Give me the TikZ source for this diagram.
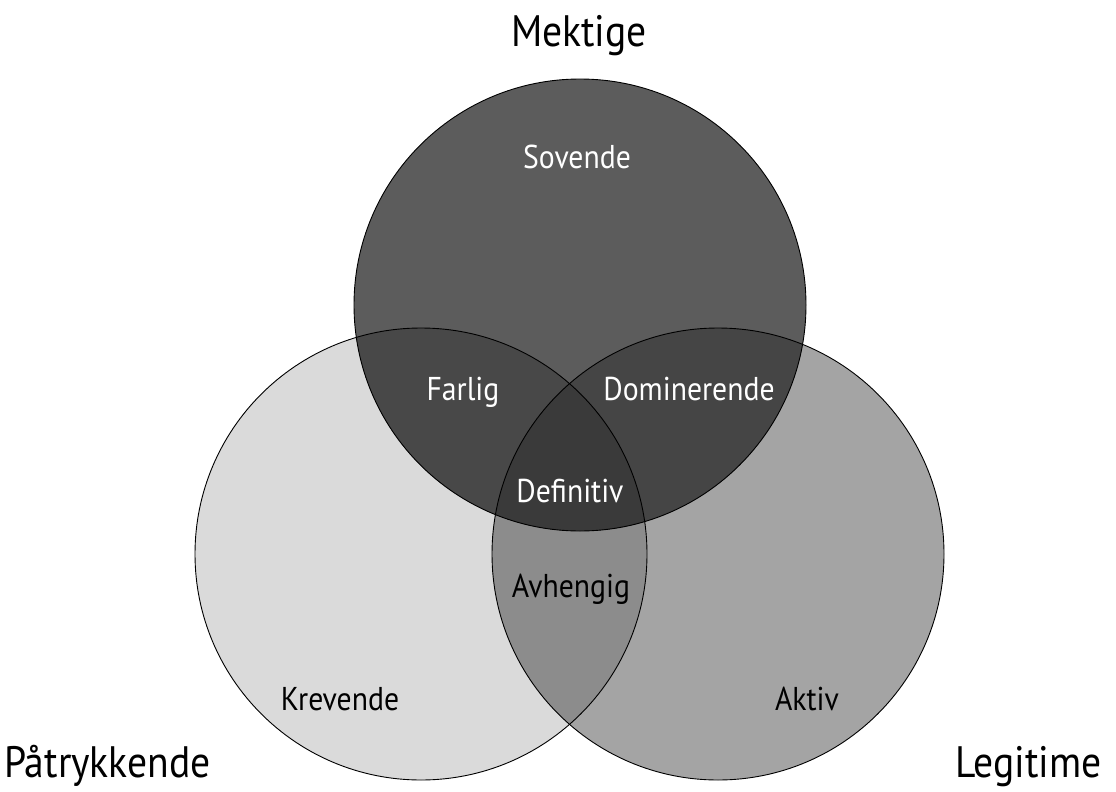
\documentclass[tikz,border=0pt]{standalone}
\usepackage{fontspec}
\setmainfont{PT Sans}[FakeStretch=0.9]
\definecolor{cL}{HTML}{DADADA}
\definecolor{cR}{HTML}{A4A4A4}
\definecolor{cT}{HTML}{5C5C5C}
\definecolor{cLR}{HTML}{8C8C8C}
\definecolor{cTL}{HTML}{484848}
\definecolor{cTR}{HTML}{454545}
\definecolor{cTLR}{HTML}{3A3A3A}
\begin{document}
\begin{tikzpicture}[x=1pt,y=-1pt,
  lab/.style={font=\fontsize{33}{38}\selectfont, anchor=base, inner sep=0pt},
  wlab/.style={lab, text=white},
  ttl/.style={font=\fontsize{44}{50}\selectfont, anchor=base, inner sep=0pt},
  ring/.style={draw=black, line width=0.9pt}]
\useasboundingbox[fill=white] (0,0) rectangle (1116,792);
\def\R{226}
\coordinate (T) at (580,305);
\coordinate (L) at (421,554);
\coordinate (Rc) at (718,554);

% single-set areas
\fill[cL] (L) circle (\R);
\fill[cR] (Rc) circle (\R);
\fill[cT] (T) circle (\R);
% pairwise and triple overlaps
\begin{scope}
  \clip (L) circle (\R);
  \fill[cLR] (Rc) circle (\R);
\end{scope}
\begin{scope}
  \clip (T) circle (\R);
  \fill[cTL] (L) circle (\R);
  \fill[cTR] (Rc) circle (\R);
  \clip (L) circle (\R);
  \fill[cTLR] (Rc) circle (\R);
\end{scope}
% outlines
\draw[ring] (T) circle (\R);
\draw[ring] (L) circle (\R);
\draw[ring] (Rc) circle (\R);

% set titles
\node[ttl] (mektige) at (579,47) {Mektige};
\node[ttl, anchor=base west] (patrykk) at (4,777) {Påtrykkende};
\node[ttl, anchor=base east] (legitime) at (1102,777) {Legitime};

% region labels
\node[wlab] (sovende) at (577,168) {Sovende};
\node[wlab] (farlig) at (463,400) {Farlig};
\node[wlab] (domin) at (689,400) {Dominerende};
\node[wlab] (defin) at (570,502) {Definitiv};
\node[lab] (avheng) at (571,597) {Avhengig};
\node[lab] (krev) at (340,710) {Krevende};
\node[lab] (aktiv) at (807,710) {Aktiv};
\end{tikzpicture}
\end{document}
